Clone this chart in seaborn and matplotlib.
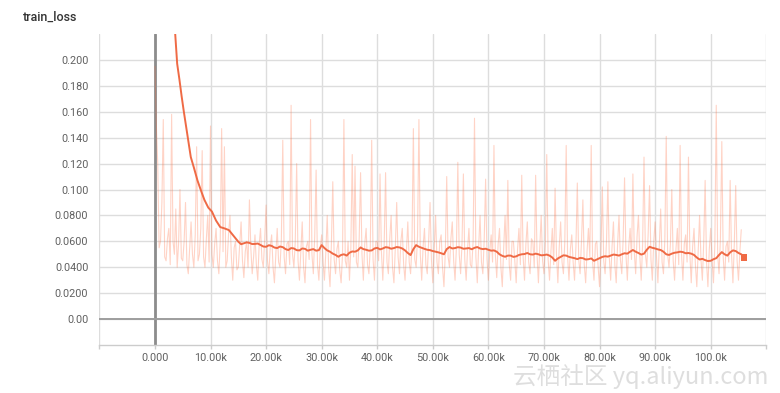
import numpy as np
import pandas as pd
import matplotlib
matplotlib.use("Agg")
import matplotlib.pyplot as plt
import seaborn as sns

# ---------------- data ----------------
raw_step_size = 250
raw_loss = [
    0.195, 0.150, 0.120, 0.055, 0.060, 0.090, 0.154, 0.048, 0.045, 0.062, 0.070, 0.042, 0.158, 0.060, 0.050, 0.085, 0.040, 0.058, 0.100, 0.047,
    0.045, 0.060, 0.090, 0.042, 0.035, 0.055, 0.075, 0.050, 0.040, 0.065, 0.133, 0.045, 0.050, 0.070, 0.130, 0.048, 0.040, 0.062, 0.080, 0.044,
    0.149, 0.050, 0.040, 0.058, 0.070, 0.045, 0.035, 0.060, 0.147, 0.052, 0.133, 0.040, 0.045, 0.066, 0.080, 0.048, 0.030, 0.055, 0.060, 0.038,
    0.040, 0.058, 0.075, 0.045, 0.032, 0.052, 0.060, 0.040, 0.092, 0.055, 0.035, 0.048, 0.065, 0.042, 0.030, 0.057, 0.070, 0.046, 0.040, 0.062,
    0.088, 0.045, 0.035, 0.056, 0.065, 0.040, 0.028, 0.050, 0.070, 0.044, 0.040, 0.062, 0.138, 0.048, 0.035, 0.058, 0.060, 0.042, 0.165, 0.050,
    0.040, 0.060, 0.120, 0.045, 0.030, 0.052, 0.075, 0.040, 0.028, 0.056, 0.060, 0.046, 0.154, 0.050, 0.035, 0.064, 0.115, 0.042, 0.030, 0.055,
    0.065, 0.044, 0.030, 0.052, 0.080, 0.040, 0.025, 0.058, 0.106, 0.046, 0.035, 0.054, 0.060, 0.038, 0.028, 0.050, 0.154, 0.045, 0.040, 0.060,
    0.030, 0.055, 0.127, 0.048, 0.118, 0.044, 0.040, 0.062, 0.113, 0.050, 0.030, 0.058, 0.070, 0.042, 0.035, 0.056, 0.138, 0.046, 0.030, 0.060,
    0.060, 0.045, 0.112, 0.052, 0.030, 0.058, 0.113, 0.044, 0.035, 0.062, 0.080, 0.040, 0.028, 0.055, 0.090, 0.048, 0.035, 0.060, 0.070, 0.042,
    0.030, 0.052, 0.075, 0.044, 0.035, 0.058, 0.147, 0.046, 0.040, 0.064, 0.154, 0.050, 0.030, 0.056, 0.070, 0.042, 0.035, 0.060, 0.090, 0.046,
    0.028, 0.055, 0.080, 0.044, 0.035, 0.060, 0.065, 0.040, 0.025, 0.052, 0.110, 0.048, 0.040, 0.062, 0.075, 0.045, 0.030, 0.056, 0.121, 0.050,
    0.035, 0.058, 0.112, 0.046, 0.030, 0.054, 0.070, 0.042, 0.040, 0.060, 0.155, 0.048, 0.028, 0.056, 0.080, 0.044, 0.035, 0.062, 0.108, 0.046,
    0.030, 0.052, 0.065, 0.044, 0.134, 0.050, 0.032, 0.058, 0.070, 0.040, 0.025, 0.055, 0.080, 0.046, 0.107, 0.042, 0.030, 0.060, 0.060, 0.045,
    0.028, 0.054, 0.070, 0.042, 0.111, 0.048, 0.030, 0.058, 0.075, 0.044, 0.035, 0.062, 0.060, 0.040, 0.111, 0.050, 0.028, 0.056, 0.080, 0.045,
    0.035, 0.058, 0.127, 0.046, 0.030, 0.052, 0.070, 0.042, 0.101, 0.050, 0.028, 0.056, 0.075, 0.044, 0.035, 0.060, 0.134, 0.048, 0.030, 0.054,
    0.065, 0.044, 0.030, 0.056, 0.105, 0.046, 0.035, 0.060, 0.092, 0.042, 0.028, 0.052, 0.070, 0.048, 0.134, 0.044, 0.030, 0.058, 0.060, 0.040,
    0.025, 0.052, 0.102, 0.045, 0.035, 0.060, 0.106, 0.048, 0.030, 0.056, 0.075, 0.042, 0.028, 0.058, 0.080, 0.046, 0.035, 0.062, 0.109, 0.050,
    0.030, 0.056, 0.070, 0.046, 0.112, 0.052, 0.035, 0.064, 0.080, 0.048, 0.030, 0.058, 0.125, 0.050, 0.040, 0.066, 0.103, 0.046, 0.030, 0.060,
    0.075, 0.048, 0.028, 0.056, 0.085, 0.044, 0.035, 0.062, 0.141, 0.050, 0.040, 0.058, 0.100, 0.045, 0.030, 0.054, 0.070, 0.042, 0.134, 0.050,
    0.030, 0.058, 0.065, 0.044, 0.125, 0.050, 0.028, 0.056, 0.070, 0.042, 0.025, 0.052, 0.080, 0.046, 0.030, 0.060, 0.107, 0.044, 0.025, 0.054,
    0.070, 0.046, 0.028, 0.058, 0.165, 0.050, 0.035, 0.062, 0.137, 0.048, 0.030, 0.056, 0.060, 0.044, 0.107, 0.050, 0.028, 0.058, 0.103, 0.045,
    0.030, 0.052, 0.069,
]
raw_steps = [i * raw_step_size for i in range(len(raw_loss))]

# smoothed curve: steep early descent (explicit steps) ...
early_steps = [3300, 3600, 4000, 4400, 4800, 5200, 5700, 6100, 6450, 7000,
               7650, 8300, 8900, 9600, 10250, 11000, 11750, 12500, 13300, 14200]
early_loss = [0.250, 0.223, 0.197, 0.185, 0.172, 0.160, 0.146, 0.135, 0.125, 0.117,
              0.107, 0.099, 0.092, 0.086, 0.083, 0.076, 0.071, 0.0700, 0.0687, 0.0640]
# ... then every 500 steps from 15k
late_start = 15000
late_step_size = 500
late_loss = [
    0.0597, 0.0578, 0.0585, 0.0592, 0.0588, 0.0579, 0.0580, 0.0583, 0.0572, 0.0560,
    0.0558, 0.0570, 0.0565, 0.0552, 0.0548, 0.0560, 0.0555, 0.0540, 0.0533, 0.0548,
    0.0545, 0.0532, 0.0530, 0.0545, 0.0542, 0.0528, 0.0535, 0.0540, 0.0528, 0.0532,
    0.0571, 0.0548, 0.0530, 0.0520, 0.0505, 0.0495, 0.0481, 0.0495, 0.0500, 0.0490,
    0.0512, 0.0522, 0.0520, 0.0530, 0.0553, 0.0540, 0.0535, 0.0528, 0.0530, 0.0545,
    0.0550, 0.0538, 0.0545, 0.0555, 0.0552, 0.0543, 0.0548, 0.0556, 0.0553, 0.0545,
    0.0530, 0.0510, 0.0494, 0.0540, 0.0571, 0.0558, 0.0550, 0.0542, 0.0535, 0.0532,
    0.0525, 0.0520, 0.0515, 0.0508, 0.0500, 0.0540, 0.0556, 0.0545, 0.0548, 0.0555,
    0.0552, 0.0543, 0.0545, 0.0548, 0.0539, 0.0550, 0.0556, 0.0545, 0.0540, 0.0543,
    0.0535, 0.0528, 0.0530, 0.0520, 0.0500, 0.0488, 0.0481, 0.0490, 0.0490, 0.0480,
    0.0484, 0.0495, 0.0500, 0.0502, 0.0510, 0.0500, 0.0498, 0.0505, 0.0500, 0.0492,
    0.0494, 0.0498, 0.0490, 0.0475, 0.0450, 0.0468, 0.0480, 0.0492, 0.0490, 0.0480,
    0.0475, 0.0470, 0.0463, 0.0472, 0.0470, 0.0460, 0.0462, 0.0468, 0.0450, 0.0460,
    0.0470, 0.0480, 0.0485, 0.0482, 0.0490, 0.0498, 0.0495, 0.0490, 0.0500, 0.0508,
    0.0505, 0.0520, 0.0533, 0.0520, 0.0510, 0.0498, 0.0505, 0.0535, 0.0558, 0.0550,
    0.0545, 0.0538, 0.0533, 0.0520, 0.0500, 0.0495, 0.0505, 0.0512, 0.0515, 0.0520,
    0.0517, 0.0508, 0.0510, 0.0505, 0.0495, 0.0475, 0.0460, 0.0465, 0.0455, 0.0448,
    0.0450, 0.0462, 0.0470, 0.0495, 0.0517, 0.0500, 0.0490, 0.0515, 0.0530, 0.0525,
    0.0510, 0.0500, 0.0477,
]
late_steps = [late_start + i * late_step_size for i in range(len(late_loss))]
smooth_steps = early_steps + late_steps
smooth_loss = early_loss + late_loss

x_ticks = [-10000, 0, 10000, 20000, 30000, 40000, 50000, 60000, 70000,
           80000, 90000, 100000, 110000]
x_tick_labels = ["", "0.000", "10.00k", "20.00k", "30.00k", "40.00k", "50.00k",
                 "60.00k", "70.00k", "80.00k", "90.00k", "100.0k", ""]
y_ticks = [0.0, 0.02, 0.04, 0.06, 0.08, 0.10, 0.12, 0.14, 0.16, 0.18, 0.20]
y_tick_labels = ["0.00", "0.0200", "0.0400", "0.0600", "0.0800", "0.100",
                 "0.120", "0.140", "0.160", "0.180", "0.200"]

title = "train_loss"
watermark = "云栖社区 yq.aliyun.com"

raw_df = pd.DataFrame({"step": raw_steps, "loss": raw_loss})
smooth_df = pd.DataFrame({"step": smooth_steps, "loss": smooth_loss})
last_df = smooth_df.tail(1)

# ---------------- style ----------------
sns.set_theme(style="white")
plt.rcParams["font.family"] = ["Roboto", "DejaVu Sans"]

line_color = "#ef6a45"
grid_color = "#dddddd"
label_color = "#616161"

fig = plt.figure(figsize=(7.8, 3.93), dpi=100)
ax = fig.add_axes([0.1274, 0.1221, 0.8550, 0.7914])

ax.axvline(0, color="#8c8c8c", lw=2.0, zorder=1.5)
ax.axhline(0, color="#9e9e9e", lw=1.4, zorder=1.5)

sns.lineplot(data=raw_df, x="step", y="loss", ax=ax, color="#ff7043",
             alpha=0.3, lw=0.8, estimator=None, sort=False, zorder=2)
sns.lineplot(data=smooth_df, x="step", y="loss", ax=ax, color=line_color,
             lw=1.4, estimator=None, sort=False, zorder=3)
sns.scatterplot(data=last_df, x="step", y="loss", ax=ax, color=line_color,
                marker="s", s=22, edgecolor="none", zorder=4)

ax.set_xlim(-10000, 110000)
ax.set_ylim(-0.02, 0.22)
ax.set_xticks(x_ticks)
ax.set_xticklabels(x_tick_labels)
ax.set_yticks(y_ticks)
ax.set_yticklabels(y_tick_labels)
ax.set_xlabel("")
ax.set_ylabel("")

ax.grid(True, color=grid_color, lw=1.0, zorder=0)
ax.set_axisbelow(True)
for side in ["top", "right", "left"]:
    ax.spines[side].set_visible(False)
ax.spines["bottom"].set_color("#cccccc")
ax.spines["bottom"].set_linewidth(1.0)

ax.tick_params(axis="x", length=3, width=1, color="#cccccc", pad=3,
               labelsize=7.8, labelcolor=label_color, bottom=True)
ax.tick_params(axis="y", length=0, pad=8, labelsize=7.8,
               labelcolor=label_color)

fig.text(23 / 780, 1 - 17.5 / 393, title, fontsize=9, fontweight="medium",
         color="#333333", va="center", ha="left")

fig.text(513 / 780, 1 - 377 / 393, watermark, fontsize=17,
         color="#dedede", va="center", ha="left",
         family=["Noto Sans CJK SC", "DejaVu Sans"])

fig.savefig("out.png", dpi=100)
